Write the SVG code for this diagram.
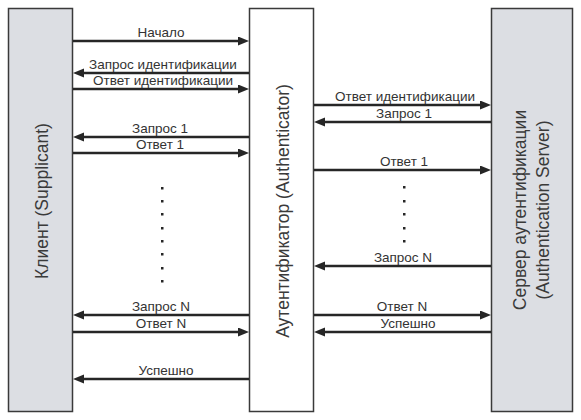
<svg xmlns="http://www.w3.org/2000/svg" width="581" height="420" viewBox="0 0 581 420">
<style>
.box{stroke:#3a3a3a;stroke-width:1.5}
.gray{fill:#dcdee3}
.white{fill:#ffffff}
.title{font-family:"Liberation Sans",Arial,sans-serif;font-size:17.5px;fill:#3a3a3a;text-anchor:middle}
.lbl{font-family:"Liberation Sans",Arial,sans-serif;font-size:13.5px;fill:#333333;text-anchor:middle}
.ar{stroke:#262626;stroke-width:2.5;fill:none;marker-end:url(#ah)}
.dot{fill:#262626}
</style>
<defs>
<marker id="ah" markerUnits="userSpaceOnUse" markerWidth="12" markerHeight="10" refX="2" refY="4.5" orient="auto">
<path d="M0,0 L11,4.5 L0,9 z" fill="#262626"/>
</marker>
</defs>
<rect width="581" height="420" fill="#ffffff"/>
<g id="client">
<rect class="box gray" x="8.5" y="8.5" width="64" height="403"/>
<text class="title" transform="translate(48,201) rotate(-90)">Клиент (Supplicant)</text>
</g>
<g id="authenticator">
<rect class="box white" x="249.5" y="8.5" width="64" height="403"/>
<text class="title" transform="translate(289,211) rotate(-90)">Аутентификатор (Authenticator)</text>
</g>
<g id="server">
<rect class="box gray" x="491.5" y="8.5" width="81" height="403"/>
<text class="title" transform="translate(526,210) rotate(-90)">Сервер аутентификации</text>
<text class="title" transform="translate(549,210) rotate(-90)">(Authentication Server)</text>
</g>
<g id="connectors">
<line class="ar" x1="73" y1="41" x2="240" y2="41"/>
<line class="ar" x1="249" y1="73" x2="82" y2="73"/>
<line class="ar" x1="73" y1="89" x2="240" y2="89"/>
<line class="ar" x1="249" y1="137" x2="82" y2="137"/>
<line class="ar" x1="73" y1="153" x2="240" y2="153"/>
<line class="ar" x1="249" y1="315" x2="82" y2="315"/>
<line class="ar" x1="73" y1="332" x2="240" y2="332"/>
<line class="ar" x1="249" y1="379" x2="82" y2="379"/>
<line class="ar" x1="314" y1="105" x2="482" y2="105"/>
<line class="ar" x1="491" y1="122" x2="323" y2="122"/>
<line class="ar" x1="314" y1="170" x2="482" y2="170"/>
<line class="ar" x1="491" y1="266" x2="323" y2="266"/>
<line class="ar" x1="314" y1="315" x2="482" y2="315"/>
<line class="ar" x1="491" y1="332" x2="323" y2="332"/>
</g>
<g id="labels">
<text class="lbl" x="161" y="37">Начало</text>
<text class="lbl" x="163" y="69">Запрос идентификации</text>
<text class="lbl" x="163" y="85">Ответ идентификации</text>
<text class="lbl" x="160" y="133">Запрос 1</text>
<text class="lbl" x="160" y="149">Ответ 1</text>
<text class="lbl" x="161" y="311">Запрос N</text>
<text class="lbl" x="161" y="328">Ответ N</text>
<text class="lbl" x="166" y="375">Успешно</text>
<text class="lbl" x="405" y="101">Ответ идентификации</text>
<text class="lbl" x="404" y="118">Запрос 1</text>
<text class="lbl" x="404" y="166">Ответ 1</text>
<text class="lbl" x="403" y="262">Запрос N</text>
<text class="lbl" x="402" y="311">Ответ N</text>
<text class="lbl" x="408" y="328">Успешно</text>
</g>
<g id="dots">
<rect class="dot" x="161" y="187" width="2.5" height="2.5"/>
<rect class="dot" x="161" y="200" width="2.5" height="2.5"/>
<rect class="dot" x="161" y="213" width="2.5" height="2.5"/>
<rect class="dot" x="161" y="227" width="2.5" height="2.5"/>
<rect class="dot" x="161" y="240" width="2.5" height="2.5"/>
<rect class="dot" x="161" y="253" width="2.5" height="2.5"/>
<rect class="dot" x="161" y="267" width="2.5" height="2.5"/>
<rect class="dot" x="161" y="280" width="2.5" height="2.5"/>
<rect class="dot" x="403" y="186" width="2.5" height="2.5"/>
<rect class="dot" x="403" y="200" width="2.5" height="2.5"/>
<rect class="dot" x="403" y="213" width="2.5" height="2.5"/>
<rect class="dot" x="403" y="227" width="2.5" height="2.5"/>
<rect class="dot" x="403" y="240" width="2.5" height="2.5"/>
</g>
</svg>
